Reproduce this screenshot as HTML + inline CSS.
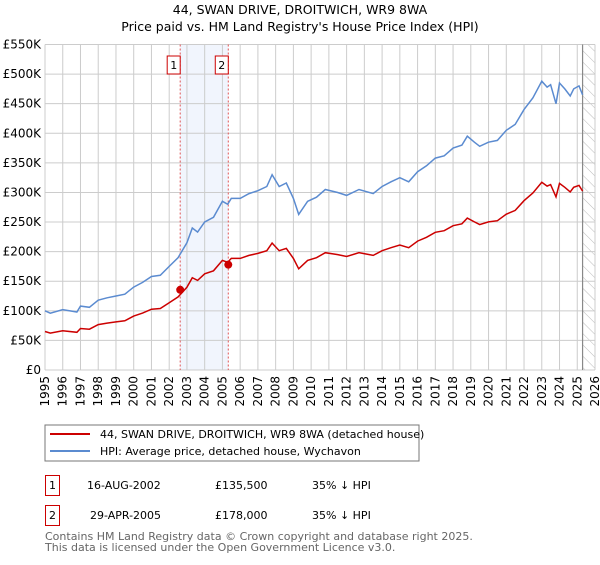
<!DOCTYPE html>
<html><head><meta charset="utf-8"><style>
body{margin:0;background:#fff;font-family:"Liberation Sans","DejaVu Sans",sans-serif;}
svg text{font-family:"DejaVu Sans","Liberation Sans",sans-serif;}
</style></head><body>
<svg id="c" width="600" height="560" xmlns="http://www.w3.org/2000/svg">
<defs><pattern id="hatch" width="8" height="8" patternUnits="userSpaceOnUse" patternTransform="rotate(-45)"><line x1="0" y1="0" x2="0" y2="8" stroke="#bbb" stroke-width="1"/></pattern></defs>
<text x="300" y="14" font-size="12.5" text-anchor="middle">44, SWAN DRIVE, DROITWICH, WR9 8WA</text>
<text x="300" y="31" font-size="12.5" text-anchor="middle">Price paid vs. HM Land Registry's House Price Index (HPI)</text>
<g id="grid"></g><g id="marks"></g><g id="axes"></g>
<rect x="45" y="425" width="374" height="36" fill="#fff" stroke="#777"/>
<line x1="50" y1="434" x2="90" y2="434" stroke="#cc0000" stroke-width="2"/>
<text x="100" y="438" font-size="11">44, SWAN DRIVE, DROITWICH, WR9 8WA (detached house)</text>
<line x1="50" y1="451" x2="90" y2="451" stroke="#5b8bd0" stroke-width="2"/>
<text x="100" y="455" font-size="11">HPI: Average price, detached house, Wychavon</text>
<g font-size="11">
<rect x="45.5" y="475.5" width="14" height="20" fill="none" stroke="#cc0000"/>
<text x="52.5" y="489" text-anchor="middle">1</text>
<text x="87" y="489">16-AUG-2002</text>
<text x="215" y="489">£135,500</text>
<text x="312" y="489">35% ↓ HPI</text>
<rect x="45.5" y="505.5" width="14" height="20" fill="none" stroke="#cc0000"/>
<text x="52.5" y="519" text-anchor="middle">2</text>
<text x="90" y="519">29-APR-2005</text>
<text x="215" y="519">£178,000</text>
<text x="312" y="519">35% ↓ HPI</text>
</g>
<text x="45" y="540" font-size="11" fill="#666">Contains HM Land Registry data © Crown copyright and database right 2025.</text>
<text x="45" y="551" font-size="11" fill="#666">This data is licensed under the Open Government Licence v3.0.</text>
</svg>
<script>
const hpiYears=[1995.0,1995.3,1996,1996.8,1997,1997.5,1998,1998.5,1999,1999.5,2000,2000.5,2001,2001.5,2002,2002.5,2003,2003.3,2003.6,2004,2004.5,2005,2005.3,2005.5,2006,2006.5,2007,2007.5,2007.8,2008.2,2008.6,2009,2009.3,2009.8,2010.3,2010.8,2011.5,2012,2012.7,2013.5,2014,2014.5,2015,2015.5,2016,2016.5,2017,2017.5,2018,2018.5,2018.8,2019.2,2019.5,2020,2020.5,2021,2021.5,2022,2022.5,2023,2023.3,2023.5,2023.8,2024,2024.3,2024.6,2024.8,2025.1,2025.3];
const hpiValues=[100,96,102,98,108,106,118,122,125,128,140,148,158,160,175,190,215,240,233,250,258,285,280,290,290,298,303,310,330,310,316,290,263,285,292,305,300,295,305,298,310,318,325,318,335,345,358,362,375,380,395,385,378,385,388,405,415,440,460,488,478,482,450,485,475,463,475,480,465];
const propertyRatio=[0.65];
const saleDates=[2002.62,2005.33];
const salePrices=[135.5,178];
const saleLabels=["1","2"];
const yTicks=[0,50,100,150,200,250,300,350,400,450,500,550];
const yTickLabels=["£0","£50K","£100K","£150K","£200K","£250K","£300K","£350K","£400K","£450K","£500K","£550K"];
const xTicks=[1995,1996,1997,1998,1999,2000,2001,2002,2003,2004,2005,2006,2007,2008,2009,2010,2011,2012,2013,2014,2015,2016,2017,2018,2019,2020,2021,2022,2023,2024,2025,2026];
const dataEnd=[2025.3];
const NS="http://www.w3.org/2000/svg";
const L=45,R=595,T=44.5,B=370;
const x=v=>L+(v-1995)/(2026-1995)*(R-L);
const y=v=>B-v/550*(B-T);
function mk(p,tag,a){const e=document.createElementNS(NS,tag);for(const k in a)e.setAttribute(k,a[k]);p.appendChild(e);return e;}
const grid=document.getElementById('grid'),marks=document.getElementById('marks'),axes=document.getElementById('axes');
// shaded band
let band=mk(grid,'rect',{x:x(saleDates[0]),y:T,width:x(saleDates[1])-x(saleDates[0]),height:B-T,fill:'#eef3fc',opacity:0.8});


// hatch
let h=mk(grid,'rect',{x:x(dataEnd[0]),y:T,width:R-x(dataEnd[0]),height:B-T,fill:'url(#hatch)'});


yTicks.forEach((t,i)=>{
 let g=mk(grid,'line',{x1:L,x2:R,y1:y(t),y2:y(t),stroke:'#ccc','stroke-width':1});
 
 
 let tx=mk(axes,'text',{x:L-4,y:y(t)+4,'font-size':12,'text-anchor':'end'});tx.textContent=yTickLabels[i];
 
 
});
xTicks.forEach(t=>{
 let g=mk(grid,'line',{x1:x(t),x2:x(t),y1:T,y2:B,stroke:'#ccc','stroke-width':1});
 
 
 let tx=mk(axes,'text',{transform:`translate(${x(t)+4},${B+6}) rotate(-90)`,'font-size':12,'text-anchor':'end'});tx.textContent=t;
 
 
});
let de=mk(grid,'line',{x1:x(dataEnd[0]),x2:x(dataEnd[0]),y1:T,y2:B,stroke:'#888','stroke-width':1.2});


saleDates.forEach((d,i)=>{
 let v=mk(marks,'line',{x1:x(d),x2:x(d),y1:T,y2:B,stroke:'#e05555','stroke-dasharray':'2,2','stroke-width':1});
 
 
 let b=mk(marks,'rect',{x:x(d)-13,y:56,width:13,height:18,fill:'#fff',stroke:'#cc0000'});
 
 
 let t=mk(marks,'text',{x:x(d)-6.5,y:69,'font-size':11,'text-anchor':'middle'});t.textContent=saleLabels[i];
 
 
});
const pts=f=>hpiYears.map((d,i)=>x(d).toFixed(1)+','+y(f(hpiValues[i])).toFixed(1)).join(' ');
let hl=mk(marks,'polyline',{points:pts(v=>v),fill:'none',stroke:'#5b8bd0','stroke-width':1.5});


let pl=mk(marks,'polyline',{points:pts(v=>v*propertyRatio[0]),fill:'none',stroke:'#cc0000','stroke-width':1.5});


saleDates.forEach((d,i)=>{
 let c=mk(marks,'circle',{cx:x(d),cy:y(salePrices[i]),r:4,fill:'#cc0000'});
 
 
});
</script>
</body></html>
